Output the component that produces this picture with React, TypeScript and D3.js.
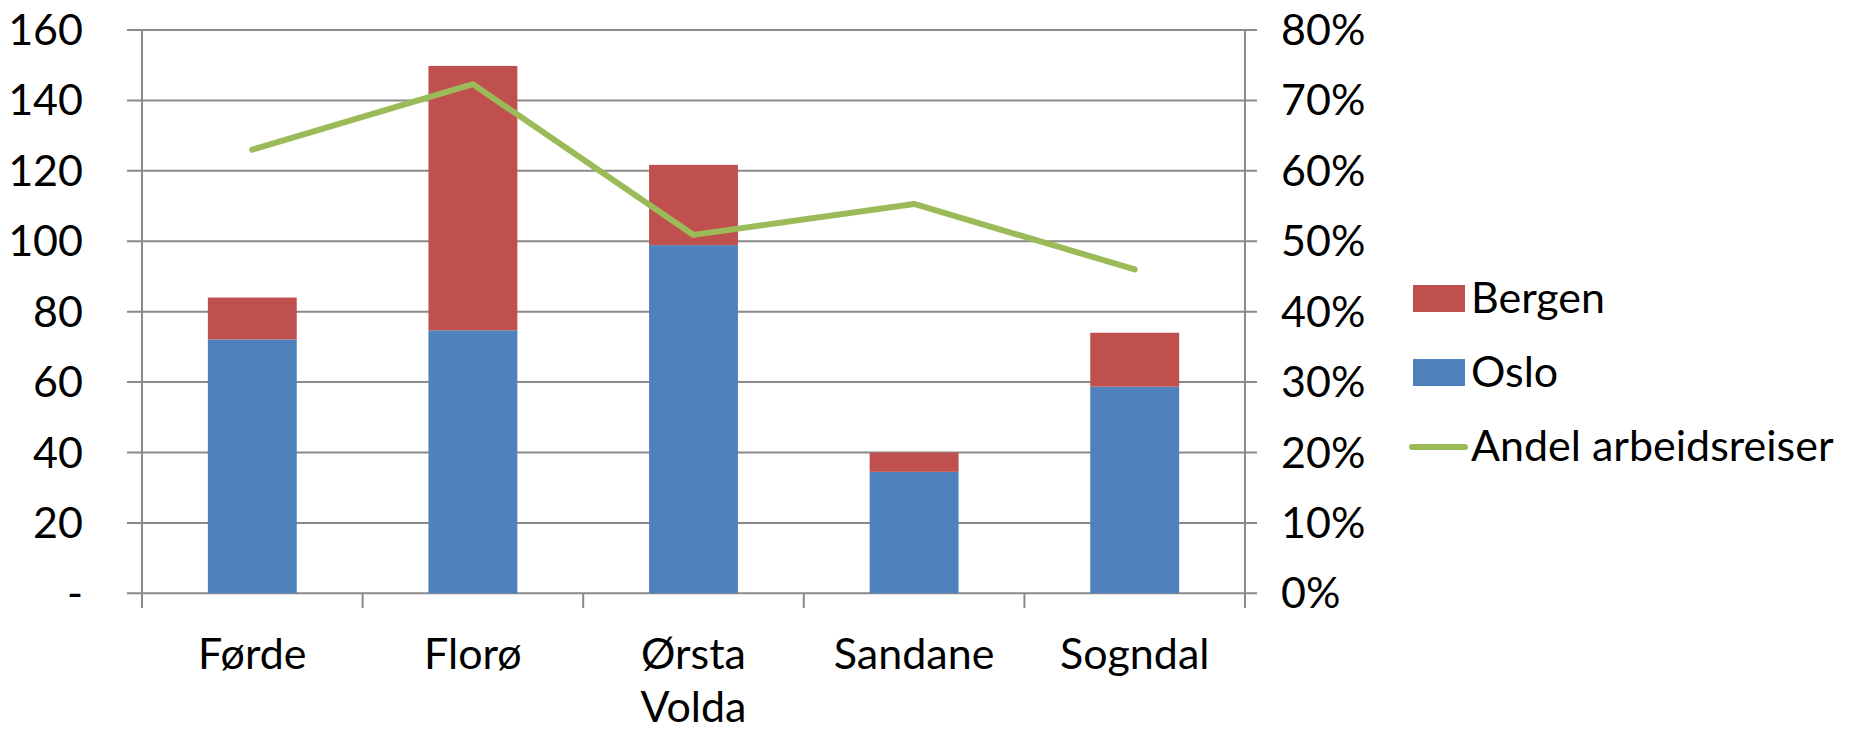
import React from "react";
import * as d3 from "d3";

const categories: string[][] = [["Førde"], ["Florø"], ["Ørsta", "Volda"], ["Sandane"], ["Sogndal"]];
const oslo = [72.1, 74.7, 98.9, 34.5, 58.7];
const bergen = [11.9, 75.1, 22.8, 5.5, 15.3];
const andel = [0.63, 0.723, 0.509, 0.553, 0.46];
const leftTicks = [0, 20, 40, 60, 80, 100, 120, 140, 160];
const rightTicks = [0, 0.1, 0.2, 0.3, 0.4, 0.5, 0.6, 0.7, 0.8];
const seriesNames = ["Bergen", "Oslo", "Andel arbeidsreiser"];

const W = 1854;
const H = 732;
const plot = { left: 142, right: 1245, top: 30, bottom: 593.3 };
const FONT = "Lato, 'Open Sans', sans-serif";
const FS = 43;
const BLUE = "#4F81BD";
const RED = "#C0504D";
const GREEN = "#9BBB59";
const GRID = "#8a8a8a";

export default function App() {
  React.useEffect(() => {
    document.body.style.margin = "0";
  }, []);

  const idx = categories.map((_, i) => i);
  const x = d3.scaleBand<number>().domain(idx).range([plot.left, plot.right]).paddingInner(0).paddingOuter(0);
  const y = d3.scaleLinear().domain([0, 160]).range([plot.bottom, plot.top]);
  const y2 = d3.scaleLinear().domain([0, 0.8]).range([plot.bottom, plot.top]);
  const bw = x.bandwidth() * 0.403;
  const cx = (i: number) => (x(i) as number) + x.bandwidth() / 2;

  const line = d3
    .line<number>()
    .x((_, i) => cx(i))
    .y((d) => y2(d));

  const pct = d3.format(".0%");
  const boundaries = d3.range(categories.length + 1).map((i) =>
    i < categories.length ? (x(i) as number) : plot.right
  );

  const legendX = 1413;
  const legendTextX = 1471;
  const legendBaselines = [313, 387, 461];

  return (
    <svg width={W} height={H} style={{ display: "block", background: "#fff" }} fontFamily={FONT}>
      <rect x={0} y={0} width={W} height={H} fill="#fff" />
      {leftTicks.map((t) => (
        <line key={"g" + t} x1={127} x2={1257} y1={y(t)} y2={y(t)} stroke={GRID} strokeWidth={2} />
      ))}
      <line x1={plot.left} x2={plot.left} y1={plot.top} y2={608} stroke={GRID} strokeWidth={2} />
      <line x1={plot.right} x2={plot.right} y1={plot.top} y2={608} stroke={GRID} strokeWidth={2} />
      {boundaries.map((b, i) => (
        <line key={"b" + i} x1={b} x2={b} y1={plot.bottom} y2={608} stroke={GRID} strokeWidth={2} />
      ))}
      {idx.map((i) => (
        <g key={"bar" + i}>
          <rect x={cx(i) - bw / 2} width={bw} y={y(oslo[i])} height={y(0) - y(oslo[i])} fill={BLUE} />
          <rect
            x={cx(i) - bw / 2}
            width={bw}
            y={y(oslo[i] + bergen[i])}
            height={y(oslo[i]) - y(oslo[i] + bergen[i])}
            fill={RED}
          />
        </g>
      ))}
      <path d={line(andel) || ""} fill="none" stroke={GREEN} strokeWidth={6} strokeLinecap="round" strokeLinejoin="round" />
      {leftTicks.map((t) => (
        <text key={"l" + t} x={83} y={y(t)} dy="0.35em" textAnchor="end" fontSize={FS} fill="#000">
          {t === 0 ? "-" : String(t)}
        </text>
      ))}
      {rightTicks.map((t) => (
        <text key={"r" + t} x={1281} y={y2(t)} dy="0.35em" textAnchor="start" fontSize={FS} fill="#000">
          {pct(t)}
        </text>
      ))}
      {categories.map((c, i) => (
        <text key={"c" + i} x={cx(i)} y={669} textAnchor="middle" fontSize={FS} fill="#000">
          {c.map((s, j) => (
            <tspan key={j} x={cx(i)} dy={j === 0 ? 0 : 53}>
              {s}
            </tspan>
          ))}
        </text>
      ))}
      <rect x={legendX} y={285} width={52} height={27} fill={RED} />
      <rect x={legendX} y={359} width={52} height={27} fill={BLUE} />
      <line x1={1412} x2={1465} y1={447} y2={447} stroke={GREEN} strokeWidth={6} strokeLinecap="round" />
      {seriesNames.map((n, i) => (
        <text key={n} x={legendTextX} y={legendBaselines[i]} fontSize={FS} fill="#000">
          {n}
        </text>
      ))}
    </svg>
  );
}
